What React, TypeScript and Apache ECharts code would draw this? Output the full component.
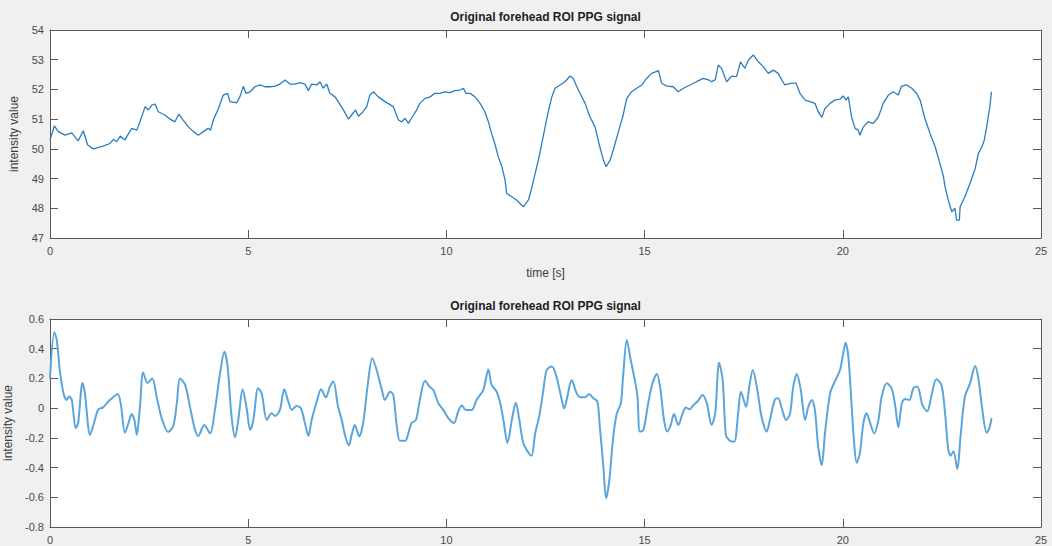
import React, { useEffect, useRef } from "react";
import * as echarts from "echarts";

// Raw forehead ROI signal: time stamps [s] and mean intensity
const rawSeconds = [
  0.0, 0.11, 0.21, 0.38, 0.55, 0.71, 0.84, 0.95, 1.09, 1.34, 1.51, 1.6, 1.68, 1.77, 1.89, 2.06, 2.19, 2.27,
  2.4, 2.48, 2.57, 2.65, 2.73, 2.9, 3.03, 3.15, 3.25, 3.36, 3.49, 3.62, 3.74, 3.87, 3.99, 4.05, 4.12, 4.25,
  4.37, 4.48, 4.54, 4.71, 4.79, 4.88, 4.94, 5.05, 5.17, 5.3, 5.42, 5.55, 5.68, 5.8, 5.93, 6.05, 6.18, 6.31,
  6.43, 6.52, 6.6, 6.73, 6.81, 6.89, 6.98, 7.06, 7.19, 7.27, 7.4, 7.53, 7.61, 7.71, 7.78, 7.9, 7.99, 8.07,
  8.16, 8.28, 8.45, 8.66, 8.79, 8.87, 8.96, 9.04, 9.12, 9.25, 9.33, 9.46, 9.59, 9.71, 9.84, 9.96, 10.09,
  10.22, 10.34, 10.43, 10.49, 10.6, 10.72, 10.85, 10.97, 11.06, 11.14, 11.23, 11.31, 11.4, 11.48, 11.52,
  11.65, 11.77, 11.94, 12.07, 12.15, 12.24, 12.32, 12.4, 12.49, 12.57, 12.66, 12.74, 12.87, 12.99, 13.12,
  13.2, 13.29, 13.37, 13.5, 13.62, 13.75, 13.87, 13.96, 14.03, 14.13, 14.21, 14.34, 14.46, 14.55, 14.67,
  14.8, 14.93, 15.05, 15.18, 15.35, 15.43, 15.56, 15.72, 15.85, 15.98, 16.15, 16.31, 16.48, 16.61, 16.69,
  16.78, 16.86, 16.94, 17.07, 17.2, 17.32, 17.42, 17.53, 17.62, 17.74, 17.87, 18.0, 18.12, 18.25, 18.37,
  18.46, 18.54, 18.71, 18.82, 18.92, 19.05, 19.17, 19.3, 19.38, 19.47, 19.55, 19.68, 19.8, 19.93, 20.01,
  20.08, 20.14, 20.22, 20.31, 20.39, 20.43, 20.52, 20.64, 20.77, 20.9, 21.02, 21.15, 21.27, 21.4, 21.48,
  21.61, 21.74, 21.86, 21.95, 22.07, 22.2, 22.33, 22.45, 22.54, 22.58, 22.66, 22.75, 22.83, 22.87, 22.94,
  22.96, 23.08, 23.21, 23.34, 23.42, 23.51, 23.57, 23.63, 23.71, 23.75,
];
const rawIntensity = [
  50.3, 50.77, 50.58, 50.46, 50.54, 50.27, 50.61, 50.13, 50.0, 50.09, 50.18, 50.32, 50.24, 50.43, 50.3, 50.69,
  50.63, 50.91, 51.42, 51.31, 51.47, 51.51, 51.25, 51.14, 51.0, 50.91, 51.17, 50.97, 50.74, 50.58, 50.46,
  50.58, 50.69, 50.63, 50.97, 51.36, 51.81, 51.87, 51.59, 51.55, 51.75, 52.11, 51.87, 51.92, 52.09, 52.15,
  52.09, 52.09, 52.11, 52.18, 52.32, 52.18, 52.18, 52.23, 52.18, 51.96, 52.18, 52.15, 52.26, 52.04, 52.18,
  51.87, 51.75, 51.59, 51.31, 51.0, 51.14, 51.31, 51.1, 51.25, 51.42, 51.81, 51.92, 51.75, 51.59, 51.42,
  50.97, 50.91, 51.03, 50.86, 51.03, 51.31, 51.53, 51.7, 51.75, 51.87, 51.87, 51.92, 51.89, 51.96, 51.98,
  52.04, 51.87, 51.87, 51.75, 51.53, 51.25, 50.91, 50.52, 50.13, 49.73, 49.4, 48.95, 48.5, 48.39, 48.28,
  48.05, 48.28, 48.67, 49.18, 49.62, 50.13, 50.74, 51.25, 51.75, 52.04, 52.15, 52.26, 52.45, 52.37, 52.09,
  51.87, 51.53, 51.08, 50.74, 50.07, 49.62, 49.4, 49.62, 49.96, 50.58, 51.14, 51.7, 51.92, 52.04, 52.15,
  52.37, 52.54, 52.63, 52.21, 52.11, 52.09, 51.92, 52.04, 52.15, 52.26, 52.37, 52.32, 52.26, 52.32, 52.82,
  52.71, 52.26, 52.45, 52.43, 52.93, 52.71, 52.99, 53.16, 52.93, 52.76, 52.54, 52.65, 52.54, 52.32, 52.15,
  52.21, 52.21, 51.87, 51.64, 51.59, 51.53, 51.25, 51.06, 51.36, 51.53, 51.64, 51.67, 51.78, 51.64, 51.75,
  51.08, 50.69, 50.63, 50.46, 50.74, 50.91, 50.86, 51.08, 51.53, 51.81, 51.92, 51.81, 52.11, 52.15, 52.04,
  51.87, 51.64, 51.03, 50.52, 50.07, 49.51, 49.06, 48.72, 48.28, 47.88, 48.0, 47.6, 47.6, 48.05, 48.39,
  48.84, 49.34, 49.85, 50.07, 50.3, 50.74, 51.42, 51.92,
];

// Band-pass filtered signal: time stamps [s] and normalised intensity
const filteredSeconds = [
  0.0, 0.11, 0.17, 0.25, 0.34, 0.42, 0.48, 0.55, 0.65, 0.71, 0.82, 0.88, 1.01, 1.09, 1.22, 1.34, 1.47, 1.6,
  1.71, 1.79, 1.89, 1.98, 2.06, 2.13, 2.19, 2.27, 2.35, 2.46, 2.58, 2.69, 2.82, 2.98, 3.11, 3.2, 3.28, 3.41,
  3.53, 3.66, 3.74, 3.89, 4.04, 4.16, 4.29, 4.4, 4.48, 4.58, 4.67, 4.75, 4.86, 4.96, 5.05, 5.13, 5.25, 5.34,
  5.47, 5.59, 5.68, 5.8, 5.91, 6.0, 6.1, 6.22, 6.33, 6.43, 6.52, 6.6, 6.73, 6.84, 6.96, 7.06, 7.15, 7.26,
  7.36, 7.44, 7.54, 7.61, 7.69, 7.8, 7.9, 8.01, 8.13, 8.24, 8.37, 8.45, 8.58, 8.66, 8.75, 8.83, 8.96, 9.04,
  9.12, 9.23, 9.33, 9.46, 9.57, 9.67, 9.8, 9.92, 10.05, 10.19, 10.3, 10.39, 10.49, 10.64, 10.76, 10.93,
  11.06, 11.14, 11.27, 11.37, 11.45, 11.54, 11.65, 11.75, 11.84, 11.94, 12.07, 12.15, 12.24, 12.34, 12.44,
  12.53, 12.66, 12.78, 12.91, 12.97, 13.05, 13.16, 13.27, 13.37, 13.5, 13.6, 13.71, 13.81, 13.87, 13.96,
  14.03, 14.11, 14.21, 14.3, 14.4, 14.46, 14.55, 14.65, 14.76, 14.82, 14.88, 14.97, 15.09, 15.2, 15.31,
  15.39, 15.49, 15.57, 15.66, 15.74, 15.85, 15.96, 16.04, 16.13, 16.23, 16.35, 16.46, 16.57, 16.69, 16.78,
  16.88, 16.97, 17.05, 17.15, 17.26, 17.36, 17.43, 17.56, 17.64, 17.73, 17.83, 17.95, 18.08, 18.16, 18.29,
  18.37, 18.46, 18.57, 18.67, 18.75, 18.84, 18.94, 19.05, 19.13, 19.22, 19.3, 19.38, 19.47, 19.55, 19.68,
  19.8, 19.93, 20.01, 20.07, 20.14, 20.22, 20.28, 20.35, 20.43, 20.52, 20.6, 20.69, 20.79, 20.9, 20.98,
  21.11, 21.23, 21.32, 21.4, 21.49, 21.57, 21.68, 21.78, 21.88, 22.01, 22.13, 22.24, 22.36, 22.49, 22.58,
  22.66, 22.72, 22.79, 22.89, 22.97, 23.08, 23.21, 23.34, 23.42, 23.51, 23.63, 23.71, 23.75,
];
const filteredIntensity = [
  0.2, 0.51, 0.46, 0.25, 0.1, 0.055, 0.08, 0.055, -0.135, -0.1, 0.17, 0.1, -0.18, -0.12, -0.008, 0.005, 0.045,
  0.075, 0.095, 0.02, -0.165, -0.1, -0.04, -0.08, -0.18, 0.01, 0.24, 0.17, 0.2, 0.077, -0.07, -0.16, -0.12,
  0.035, 0.2, 0.155, 0.01, -0.147, -0.187, -0.113, -0.17, -0.012, 0.235, 0.38, 0.28, -0.057, -0.196, -0.08,
  0.127, -0.001, -0.147, -0.08, 0.134, 0.1, -0.08, -0.035, -0.053, -0.012, 0.127, 0.055, -0.012, 0.015,
  -0.001, -0.1, -0.187, -0.08, 0.045, 0.127, 0.073, 0.145, 0.18, 0.02, -0.08, -0.18, -0.25, -0.18, -0.113,
  -0.19, -0.1, 0.145, 0.335, 0.257, 0.125, 0.055, 0.11, 0.089, -0.125, -0.22, -0.22, -0.17, -0.1, -0.08,
  0.055, 0.185, 0.145, 0.122, 0.032, -0.012, -0.068, -0.1, -0.021, 0.017, -0.012, -0.012, 0.055, 0.122, 0.26,
  0.156, 0.11, 0.02, -0.1, -0.235, -0.08, 0.036, -0.08, -0.235, -0.3, -0.32, -0.17, -0.057, 0.11, 0.257,
  0.28, 0.21, 0.055, -0.002, 0.077, 0.19, 0.11, 0.073, 0.073, 0.095, 0.066, 0.044, -0.125, -0.394, -0.607,
  -0.485, -0.19, -0.035, 0.032, 0.223, 0.459, 0.324, 0.18, 0.077, -0.158, -0.147, 0.032, 0.167, 0.23, 0.145,
  -0.08, -0.158, -0.113, -0.04, -0.113, -0.035, 0.005, -0.008, 0.02, 0.05, 0.089, 0.032, -0.113, -0.035,
  0.306, 0.19, -0.18, -0.22, -0.226, -0.035, 0.11, 0.009, 0.145, 0.257, 0.145, -0.057, -0.158, -0.08, 0.06,
  0.066, -0.001, -0.08, -0.035, 0.145, 0.23, 0.122, -0.08, 0.009, 0.055, -0.021, -0.26, -0.383, -0.17, 0.1,
  0.18, 0.257, 0.369, 0.44, 0.346, 0.032, -0.214, -0.367, -0.304, -0.1, -0.035, -0.1, -0.17, -0.08, 0.077,
  0.167, 0.134, 0.02, -0.129, 0.032, 0.061, 0.055, 0.134, 0.145, 0.02, -0.021, 0.089, 0.194, 0.156, -0.035,
  -0.28, -0.32, -0.29, -0.41, -0.19, 0.077, 0.167, 0.284, 0.2, 0.01, -0.165, -0.125, -0.068,
];

const plotTitle = "Original forehead ROI PPG signal";
const timeLabel = "time [s]";
const intensityLabel = "intensity value";

const FONT = "'Liberation Sans', Arial, Helvetica, sans-serif";
const AXIS_COLOR = "#595959";
const LABEL_COLOR = "#4a4a4a";

const pairs = (xs: number[], ys: number[]) => xs.map((x, i) => [x, ys[i]]);

export default function App() {
  const ref = useRef<HTMLDivElement>(null);

  useEffect(() => {
    if (!ref.current) return;
    const chart = echarts.init(ref.current, undefined, { renderer: "svg" });

    const grids = [
      { left: 50, top: 30, width: 991, height: 208 },
      { left: 50, top: 319, width: 991, height: 208 },
    ];

    const tick = { show: true, inside: true, length: 8, lineStyle: { color: AXIS_COLOR, width: 1 } };
    const line = { show: true, onZero: false, lineStyle: { color: AXIS_COLOR, width: 1 } };
    const label = { color: LABEL_COLOR, fontSize: 11, fontFamily: FONT, margin: 7 };

    const timeAxis = (gridIndex: number, position: "top" | "bottom", withLabels: boolean, name?: string) => ({
      type: "value",
      gridIndex,
      position,
      min: 0,
      max: 25,
      interval: 5,
      axisLine: line,
      axisTick: tick,
      axisLabel: { ...label, show: withLabels, showMinLabel: true, showMaxLabel: true },
      splitLine: { show: false },
      name,
      nameLocation: "middle",
      nameGap: 29,
      nameTextStyle: { color: "#3c3c3c", fontSize: 12, fontFamily: FONT },
    });

    const valueAxis = (
      gridIndex: number,
      position: "left" | "right",
      min: number,
      max: number,
      interval: number,
      withLabels: boolean,
      nameGap: number,
      fmt?: (v: number) => string
    ) => ({
      type: "value",
      gridIndex,
      position,
      min,
      max,
      interval,
      axisLine: line,
      axisTick: tick,
      axisLabel: { ...label, show: withLabels, margin: 6, formatter: fmt },
      splitLine: { show: false },
      name: withLabels ? intensityLabel : undefined,
      nameLocation: "middle",
      nameGap,
      nameTextStyle: { color: "#3c3c3c", fontSize: 12, fontFamily: FONT },
    });

    const decimal = (v: number) => (Math.abs(v) < 1e-9 ? "0" : v.toFixed(1));

    chart.setOption({
      animation: false,
      backgroundColor: "#f0f0f0",
      grid: grids.map((g) => ({
        ...g,
        show: true,
        backgroundColor: "#ffffff",
        borderWidth: 0,
        containLabel: false,
        outerBoundsMode: "none",
      })),
      xAxis: [
        timeAxis(0, "bottom", true, timeLabel),
        timeAxis(0, "top", false),
        timeAxis(1, "bottom", true),
        timeAxis(1, "top", false),
      ],
      yAxis: [
        valueAxis(0, "left", 47, 54, 1, true, 30),
        valueAxis(0, "right", 47, 54, 1, false, 0),
        valueAxis(1, "left", -0.8, 0.6, 0.2, true, 36, decimal),
        valueAxis(1, "right", -0.8, 0.6, 0.2, false, 0),
      ],
      graphic: [
        {
          type: "text",
          x: 545.5,
          y: 17,
          style: {
            text: plotTitle,
            font: `bold 12px ${FONT}`,
            fill: "#1e1e1e",
            textAlign: "center",
            textVerticalAlign: "middle",
          },
        },
        {
          type: "text",
          x: 545.5,
          y: 306,
          style: {
            text: plotTitle,
            font: `bold 12px ${FONT}`,
            fill: "#1e1e1e",
            textAlign: "center",
            textVerticalAlign: "middle",
          },
        },
      ],
      series: [
        {
          type: "line",
          xAxisIndex: 0,
          yAxisIndex: 0,
          data: pairs(rawSeconds, rawIntensity),
          showSymbol: false,
          lineStyle: { color: "#2a7dc0", width: 1.3 },
        },
        {
          type: "line",
          xAxisIndex: 2,
          yAxisIndex: 2,
          data: pairs(filteredSeconds, filteredIntensity),
          showSymbol: false,
          smooth: 0.3,
          lineStyle: { color: "#5aa5dc", width: 2 },
        },
      ],
    });

    return () => chart.dispose();
  }, []);

  return (
    <div
      ref={ref}
      style={{ position: "fixed", left: 0, top: 0, width: 1052, height: 546, background: "#f0f0f0" }}
    />
  );
}
